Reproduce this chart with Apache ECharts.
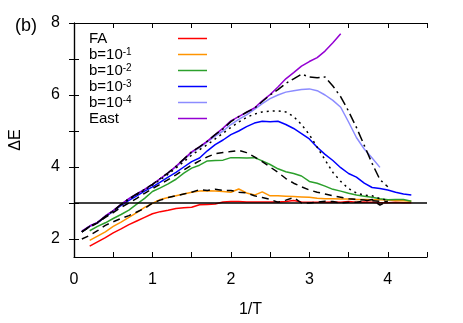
<!DOCTYPE html>
<html>
<head>
<meta charset="utf-8">
<script src="https://cdn.jsdelivr.net/npm/echarts@6/dist/echarts.min.js"></script>
<style>
  html, body { margin: 0; padding: 0; background: #fff; }
  #chart { width: 463px; height: 323px; }
</style>
</head>
<body>
<div id="chart"></div>
<script>
// 1/T 网格
var invT = [0.1, 0.2, 0.3, 0.4, 0.5, 0.6, 0.7, 0.8, 0.9, 1.0,
            1.1, 1.2, 1.3, 1.4, 1.5, 1.6, 1.7, 1.8, 1.9, 2.0,
            2.1, 2.2, 2.3, 2.4, 2.5, 2.6, 2.7, 2.8, 2.9, 3.0,
            3.1, 3.2, 3.3, 3.4, 3.5, 3.6, 3.7, 3.8, 3.9, 4.0,
            4.1, 4.2, 4.3];

var fa = [null, 1.80, 1.92, 2.04, 2.17, 2.28, 2.40, 2.50, 2.60, 2.70,
          2.76, 2.80, 2.85, 2.87, 2.88, 2.95, 2.96, 2.97, 3.03, 3.04,
          3.04, 3.03, 3.03, 3.03, 3.03, 3.03, 3.04, 3.07, 3.03, 3.02,
          3.02, 3.02, 3.03, 3.02, 3.04, 3.02, 3.03, 3.02, 3.01, 3.01,
          3.02, 3.01, 3.01];

var b1 = [null, 1.96, 2.08, 2.20, 2.35, 2.47, 2.60, 2.73, 2.88, 2.99,
          3.10, 3.15, 3.20, 3.25, 3.30, 3.33, 3.34, 3.33, 3.32, 3.30,
          3.39, 3.28, 3.22, 3.31, 3.20, 3.20, 3.19, 3.18, 3.17, 3.16,
          3.13, 3.12, 3.12, 3.11, 3.11, 3.10, 3.10, 3.09, 3.09, 3.08,
          3.07, 3.06, 3.05];

var b2 = [null, 2.23, 2.35, 2.45, 2.57, 2.68, 2.80, 2.97, 3.13, 3.32,
          3.42, 3.53, 3.66, 3.83, 3.97, 4.05, 4.17, 4.18, 4.19, 4.26,
          4.26, 4.25, 4.26, 4.17, 4.07, 3.95, 3.87, 3.82, 3.75, 3.60,
          3.55, 3.47, 3.38, 3.33, 3.27, 3.22, 3.19, 3.16, 3.12, 3.09,
          3.10, 3.10, 3.05];

var b3 = [2.20, 2.35, 2.45, 2.62, 2.77, 2.93, 3.07, 3.20, 3.33, 3.45,
          3.58, 3.72, 3.85, 4.00, 4.15, 4.25, 4.45, 4.62, 4.75, 4.90,
          5.00, 5.12, 5.22, 5.27, 5.26, 5.27, 5.18, 5.07, 4.93, 4.78,
          4.55, 4.35, 4.18, 3.98, 3.82, 3.72, 3.55, 3.43, 3.40, 3.36,
          3.30, 3.25, 3.22];

var b4 = [2.22, 2.36, 2.46, 2.64, 2.79, 2.96, 3.12, 3.25, 3.38, 3.52,
          3.67, 3.83, 4.00, 4.20, 4.40, 4.54, 4.70, 4.86, 5.00, 5.18,
          5.32, 5.45, 5.60, 5.76, 5.90, 6.00, 6.08, 6.12, 6.15, 6.17,
          6.12, 6.00, 5.85, 5.66, 5.25, 4.82, 4.50, 4.25, 3.99, null,
          null, null, null];

var east = [2.22, 2.36, 2.46, 2.64, 2.79, 2.96, 3.12, 3.25, 3.38, 3.52,
            3.68, 3.84, 4.02, 4.22, 4.42, 4.56, 4.72, 4.90, 5.08, 5.28,
            5.40, 5.52, 5.64, 5.84, 6.01, 6.22, 6.45, 6.62, 6.80, 6.93,
            7.04, 7.22, 7.45, 7.70, null, null, null, null, null, null,
            null, null, null];

// 黑色参考曲线
var ref1 = [2.00, 2.10, 2.23, 2.38, 2.48, 2.57, 2.65, 2.75, 2.85, 3.00,
            3.08, 3.15, 3.20, 3.25, 3.30, 3.37, 3.35, 3.38, 3.35, 3.35,
            3.30, 3.28, 3.20, 3.15, 3.10, 3.02, 3.08, 3.15, 3.00, 3.00,
            3.02, 3.05, 3.04, 3.00, 3.02, 3.02, 3.05, 3.10, 2.94, 3.05,
            null, null, null];

var ref2 = [2.20, 2.33, 2.45, 2.60, 2.73, 2.88, 3.00, 3.13, 3.27, 3.40,
            3.52, 3.65, 3.78, 3.92, 4.05, 4.17, 4.28, 4.37, 4.40, 4.43,
            4.46, 4.40, 4.28, 4.15, 4.00, 3.85, 3.68, 3.55, 3.45, 3.36,
            3.30, 3.25, 3.20, 3.16, 3.12, 3.10, 3.08, 3.06, 3.05, 3.04,
            null, null, null];

var ref3 = [2.20, 2.35, 2.46, 2.62, 2.78, 2.95, 3.10, 3.23, 3.36, 3.50,
            3.65, 3.80, 3.97, 4.15, 4.33, 4.48, 4.62, 4.78, 4.94, 5.10,
            5.25, 5.38, 5.47, 5.53, 5.55, 5.56, 5.53, 5.40, 5.18, 4.90,
            4.55, 4.20, 3.85, 3.60, 3.40, 3.28, 3.22, 3.20, 3.12, 3.08,
            null, null, null];

var ref4 = [2.20, 2.35, 2.45, 2.63, 2.78, 2.96, 3.12, 3.25, 3.38, 3.52,
            3.68, 3.84, 4.02, 4.22, 4.42, 4.56, 4.72, 4.90, 5.06, 5.26,
            5.40, 5.52, 5.63, 5.82, 6.00, 6.15, 6.32, 6.45, 6.58, 6.50,
            6.48, 6.50, 6.25, 5.95, 5.55, 5.10, 4.60, 4.10, 3.65, 3.45,
            null, null, null];

var yTicks = [2, 3, 4, 5, 6, 7, 8];
var yLabels = [2, 4, 6, 8];
var xTicks = [0, 0.5, 1, 1.5, 2, 2.5, 3, 3.5, 4, 4.5];
var xLabels = [0, 1, 2, 3, 4];

function pairs(ys) {
  var out = [];
  for (var i = 0; i < invT.length; i++) {
    out.push([invT[i], ys[i]]);
  }
  return out;
}

var FONT = 'Liberation Sans, Arial, sans-serif';
var chart = echarts.init(document.getElementById('chart'));

function colored(name, ys, color) {
  return {
    name: name, type: 'line', data: pairs(ys),
    symbol: 'none', connectNulls: false, animation: false,
    lineStyle: { color: color, width: 1.5 },
    itemStyle: { color: color }
  };
}
function black(ys, dash) {
  return {
    type: 'line', data: pairs(ys),
    symbol: 'none', animation: false,
    lineStyle: { color: '#000', width: 1.5, type: dash },
    itemStyle: { color: '#000' }
  };
}

// 图例文字（上标用 rich）
var supNames = {
  'FA': '{t|FA}',
  'b1': '{t|b=10}{sup|-1}',
  'b2': '{t|b=10}{sup|-2}',
  'b3': '{t|b=10}{sup|-3}',
  'b4': '{t|b=10}{sup|-4}',
  'East': '{t|East}'
};

var axisLine = { show: true, lineStyle: { color: '#000', width: 1.2 } };

var option = {
  animation: false,
  textStyle: { fontFamily: FONT },
  title: {
    text: '(b)', left: 10, top: 12,
    textStyle: { fontSize: 18, fontWeight: 'normal', color: '#000', fontFamily: FONT }
  },
  grid: { left: 74, right: 36, top: 23, bottom: 65 },
  legend: {
    orient: 'vertical', left: 84, top: 26, align: 'right',
    itemWidth: 29, itemHeight: 14, itemGap: 1,
    itemStyle: { opacity: 0 },
    lineStyle: { width: 1.5 },
    data: ['FA', 'b1', 'b2', 'b3', 'b4', 'East'],
    formatter: function (n) { return supNames[n]; },
    textStyle: {
      fontSize: 15, color: '#000', width: 84, lineHeight: 14, fontFamily: FONT,
      rich: {
        t: { fontSize: 15, lineHeight: 14, align: 'left', fontFamily: FONT, color: '#000' },
        sup: { fontSize: 10, lineHeight: 14, verticalAlign: 'top', align: 'left', fontFamily: FONT, color: '#000' }
      }
    }
  },
  xAxis: [{
    type: 'value', min: 0, max: 4.5,
    name: '1/T', nameLocation: 'middle', nameGap: 45,
    nameTextStyle: { fontSize: 16, color: '#000', fontFamily: FONT },
    axisLine: axisLine,
    axisTick: { inside: true, length: 5, customValues: xTicks, lineStyle: { color: '#000' } },
    axisLabel: { customValues: xLabels, fontSize: 16, color: '#000', margin: 15, fontFamily: FONT },
    splitLine: { show: false }
  }, {
    type: 'value', min: 0, max: 4.5, position: 'top',
    axisLine: axisLine,
    axisTick: { inside: true, length: 5, customValues: xTicks, lineStyle: { color: '#000' } },
    axisLabel: { show: false },
    splitLine: { show: false }
  }],
  yAxis: [{
    type: 'value', min: 1.5, max: 8,
    name: 'ΔE', nameLocation: 'middle', nameGap: 50, nameRotate: 90,
    nameTextStyle: { fontSize: 16, color: '#000', fontFamily: FONT },
    axisLine: axisLine,
    axisTick: { inside: true, length: 5, customValues: yTicks, lineStyle: { color: '#000' } },
    axisLabel: { customValues: yLabels, fontSize: 16, color: '#000', margin: 14, fontFamily: FONT },
    splitLine: { show: false }
  }, {
    type: 'value', min: 1.5, max: 8, position: 'right',
    axisLine: axisLine,
    axisTick: { inside: true, length: 5, customValues: yTicks, lineStyle: { color: '#000' } },
    axisLabel: { show: false },
    splitLine: { show: false }
  }],
  series: [
    colored('FA', fa, '#ff0000'),
    colored('b1', b1, '#ff9400'),
    colored('b2', b2, '#2ca02c'),
    colored('b3', b3, '#0000ff'),
    colored('b4', b4, '#8c8cff'),
    colored('East', east, '#9400d3'),
    black(ref1, [7, 5]),
    black(ref2, [7, 5]),
    black(ref3, [2, 4]),
    black(ref4, [10, 4, 2, 4])
  ]
};

// y=3 水平线
option.series[0].markLine = {
  silent: true, symbol: 'none', animation: false,
  label: { show: false },
  lineStyle: { color: '#000', width: 1.5, type: 'solid' },
  data: [{ yAxis: 3 }]
};

chart.setOption(option);
</script>
</body>
</html>
